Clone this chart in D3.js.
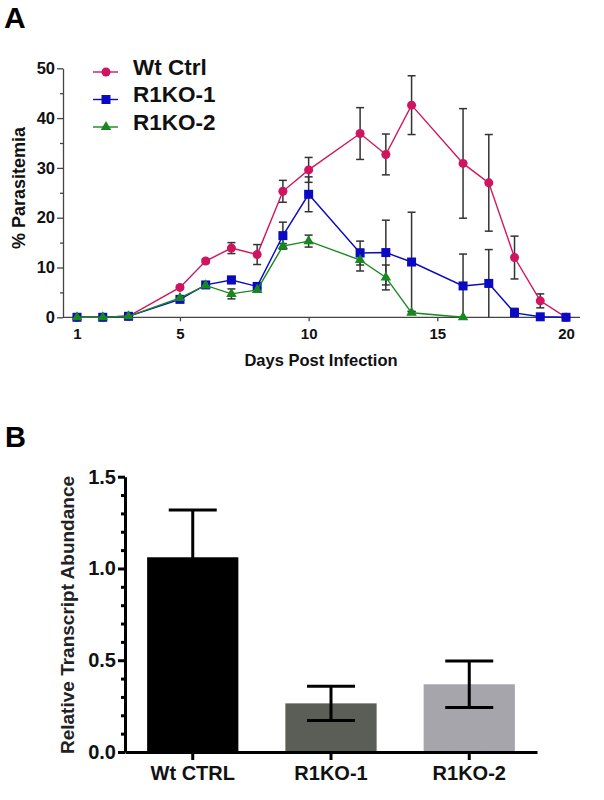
<!DOCTYPE html>
<html>
<head>
<meta charset="utf-8">
<script src="https://cdn.jsdelivr.net/npm/d3@7"></script>
<style>
  body { margin: 0; background: #fff; }
  svg text { font-family: 'Liberation Sans', Arial, sans-serif; font-weight: bold; }
</style>
</head>
<body>
<svg id="fig" width="604" height="800"></svg>
<script>
// panel A: parasitemia over time
const days = [1, 2, 3, 5, 6, 7, 8, 9, 10, 12, 13, 14, 16, 17, 18, 19, 20]
const wtCtrl = [0, 0, 0.2, 6.0, 11.3, 13.9, 12.6, 25.3, 29.6, 36.9, 32.7, 42.6, 30.9, 27.0, 12.0, 3.3, 0]
const wtCtrlErr = [0, 0, 0.1, 0.3, 0.4, 1.1, 2.0, 2.2, 2.5, 5.2, 4.1, 5.9, 11.0, 9.7, 4.3, 1.4, 0]
const r1ko1 = [0, 0, 0.2, 3.6, 6.5, 7.5, 6.2, 16.4, 24.7, 12.9, 13.0, 11.1, 6.3, 6.8, 0.9, 0.1, 0]
const r1ko1Err = [0, 0, 0, 0.3, 0.3, 0.7, 0.4, 2.7, 3.5, 2.4, 6.5, 10.0, 6.4, 6.8, 0.9, 0.1, 0]
const daysKo2 = [1, 2, 3, 5, 6, 7, 8, 9, 10, 12, 13, 14, 16]
const r1ko2 = [0, 0, 0.2, 3.9, 6.4, 4.7, 5.5, 14.3, 15.3, 11.5, 8.0, 0.9, 0]
const r1ko2Err = [0, 0, 0, 0.3, 0.3, 1.0, 0.4, 0.5, 1.2, 2.2, 2.5, 0.3, 0]
const dayTicks = [1, 5, 10, 15, 20]
const pctTicks = [0, 10, 20, 30, 40, 50]

// panel B: transcript abundance
const groups = ['Wt CTRL', 'R1KO-1', 'R1KO-2']
const abundance = [1.061, 0.265, 0.369]
const abundanceErr = [0.258, 0.093, 0.127]
const abundTicks = [0, 0.5, 1.0, 1.5]

const svg = d3.select('#fig')

// ---------- A ----------
const x = d3.scaleLinear().domain([1, 20]).range([77, 566])
const y = d3.scaleLinear().domain([0, 50]).range([317.3, 68.3])
const axisCol = '#444'

svg.append('text').attr('x', 4).attr('y', 28).attr('font-size', 30).text('A')

const gA = svg.append('g')

// minor y ticks
gA.append('g')
  .attr('transform', 'translate(63,0)')
  .call(d3.axisLeft(y).tickValues([5, 15, 25, 35, 45]).tickSize(3).tickFormat(''))
  .call(g => g.select('.domain').remove())
  .call(g => g.selectAll('line').attr('stroke', axisCol).attr('stroke-width', 1.3))

const yAxisA = gA.append('g')
  .attr('transform', 'translate(63,0)')
  .call(d3.axisLeft(y).tickValues(pctTicks).tickSize(6).tickSizeOuter(0).tickPadding(2))
yAxisA.select('.domain').attr('stroke', axisCol).attr('stroke-width', 1.3)
yAxisA.selectAll('line').attr('stroke', axisCol).attr('stroke-width', 1.3)
yAxisA.selectAll('text').attr('font-size', 16.5).attr('fill', '#111')

const xAxisA = gA.append('g')
  .attr('transform', 'translate(0,317.3)')
  .call(d3.axisBottom(x).tickValues(dayTicks).tickSize(4).tickSizeOuter(0).tickPadding(7))
xAxisA.select('.domain').attr('d', 'M63,0H580').attr('stroke', axisCol).attr('stroke-width', 1.3)
xAxisA.selectAll('line').attr('stroke', axisCol).attr('stroke-width', 1.3)
xAxisA.selectAll('text').attr('font-size', 15).attr('fill', '#111')

svg.append('text').attr('x', 321).attr('y', 366).attr('text-anchor', 'middle')
  .attr('font-size', 16.5).attr('fill', '#111').text('Days Post Infection')
svg.append('text').attr('transform', 'translate(25,188) rotate(-90)').attr('text-anchor', 'middle')
  .attr('font-size', 18).attr('fill', '#111').text('% Parasitemia')

const series = [
  { name: 'Wt Ctrl', xs: days, vals: wtCtrl, errs: wtCtrlErr, color: '#d0145f', sym: d3.symbolCircle, size: 64 },
  { name: 'R1KO-1', xs: days, vals: r1ko1, errs: r1ko1Err, color: '#0a0ac4', sym: d3.symbolSquare, size: 81 },
  { name: 'R1KO-2', xs: daysKo2, vals: r1ko2, errs: r1ko2Err, color: '#17871f', sym: d3.symbolTriangle, size: 48 }
]

const line = d3.line().x(d => x(d[0])).y(d => y(d[1]))

// error bars first (under lines)
series.forEach(s => {
  const pts = s.xs.map((d, i) => [d, s.vals[i], s.errs[i]]).filter(p => p[2] > 0)
  const eb = gA.append('g').attr('stroke', '#333').attr('stroke-width', 1.5)
  eb.selectAll('.v').data(pts).enter().append('line')
    .attr('x1', d => x(d[0])).attr('x2', d => x(d[0]))
    .attr('y1', d => y(Math.max(0, d[1] - d[2]))).attr('y2', d => y(d[1] + d[2]))
  eb.selectAll('.t').data(pts).enter().append('line')
    .attr('x1', d => x(d[0]) - 4).attr('x2', d => x(d[0]) + 4)
    .attr('y1', d => y(d[1] + d[2])).attr('y2', d => y(d[1] + d[2]))
  eb.selectAll('.b').data(pts.filter(p => p[1] - p[2] > 0)).enter().append('line')
    .attr('x1', d => x(d[0]) - 4).attr('x2', d => x(d[0]) + 4)
    .attr('y1', d => y(d[1] - d[2])).attr('y2', d => y(d[1] - d[2]))
})

series.forEach(s => {
  const pts = s.xs.map((d, i) => [d, s.vals[i]])
  gA.append('path').datum(pts).attr('d', line)
    .attr('fill', 'none').attr('stroke', s.color).attr('stroke-width', 1.4)
  gA.selectAll(null).data(pts).enter().append('path')
    .attr('d', d3.symbol().type(s.sym).size(s.size))
    .attr('transform', d => `translate(${x(d[0])},${y(d[1])})`)
    .attr('fill', s.color)
})

// legend
const legRows = [72, 99.5, 127]
series.forEach((s, i) => {
  const ly = legRows[i]
  svg.append('line').attr('x1', 93).attr('x2', 118).attr('y1', ly).attr('y2', ly)
    .attr('stroke', s.color).attr('stroke-width', 1.4)
  svg.append('path').attr('d', d3.symbol().type(s.sym).size(s.size)())
    .attr('transform', `translate(106,${ly})`).attr('fill', s.color)
  svg.append('text').attr('x', 133).attr('y', ly + 2.5).attr('font-size', 22.5)
    .attr('fill', '#111').text(s.name)
})

// ---------- B ----------
svg.append('text').attr('x', 5).attr('y', 447).attr('font-size', 29).text('B')

const xb = d3.scaleBand().domain(groups).range([125, 537]).paddingInner(0.34).paddingOuter(0.16)
const yb = d3.scaleLinear().domain([0, 1.5]).range([752, 476.7])
const barCols = ['#000000', '#5b5d57', '#a6a5ab']
const gB = svg.append('g')

gB.selectAll('rect').data(groups).enter().append('rect')
  .attr('x', d => xb(d)).attr('width', xb.bandwidth())
  .attr('y', (d, i) => yb(abundance[i])).attr('height', (d, i) => yb(0) - yb(abundance[i]))
  .attr('fill', (d, i) => barCols[i])

const ebB = gB.append('g').attr('stroke', '#000').attr('stroke-width', 3)
groups.forEach((g, i) => {
  const cx = xb(g) + xb.bandwidth() / 2
  const hi = abundance[i] + abundanceErr[i]
  const lo = abundance[i] - abundanceErr[i]
  ebB.append('line').attr('x1', cx).attr('x2', cx).attr('y1', yb(lo)).attr('y2', yb(hi))
  ebB.append('line').attr('x1', cx - 24).attr('x2', cx + 24).attr('y1', yb(hi)).attr('y2', yb(hi))
  ebB.append('line').attr('x1', cx - 24).attr('x2', cx + 24).attr('y1', yb(lo)).attr('y2', yb(lo))
})

// minor ticks every 0.1
gB.append('g')
  .attr('transform', 'translate(125,0)')
  .call(d3.axisLeft(yb).tickValues(d3.range(1, 15).filter(v => v % 5 !== 0).map(v => v / 10)).tickSize(4).tickFormat(''))
  .call(g => g.select('.domain').remove())
  .call(g => g.selectAll('line').attr('stroke', '#000').attr('stroke-width', 3))

const yAxisB = gB.append('g')
  .attr('transform', 'translate(125,0)')
  .call(d3.axisLeft(yb).tickValues(abundTicks).tickSize(7).tickSizeOuter(0).tickPadding(2).tickFormat(d3.format('.1f')))
yAxisB.select('.domain').attr('stroke', '#000').attr('stroke-width', 3)
yAxisB.selectAll('line').attr('stroke', '#000').attr('stroke-width', 3)
yAxisB.selectAll('text').attr('font-size', 20).attr('fill', '#111')

const xAxisB = gB.append('g')
  .attr('transform', 'translate(0,752)')
  .call(d3.axisBottom(xb).tickSize(8).tickSizeOuter(0).tickPadding(6))
xAxisB.select('.domain').attr('stroke', '#000').attr('stroke-width', 3)
xAxisB.selectAll('line').attr('stroke', '#000').attr('stroke-width', 3)
xAxisB.selectAll('text').attr('font-size', 20).attr('fill', '#111')

svg.append('text').attr('transform', 'translate(74,615) rotate(-90)').attr('text-anchor', 'middle')
  .attr('font-size', 19).attr('fill', '#222').text('Relative Transcript Abundance')
</script>
</body>
</html>
